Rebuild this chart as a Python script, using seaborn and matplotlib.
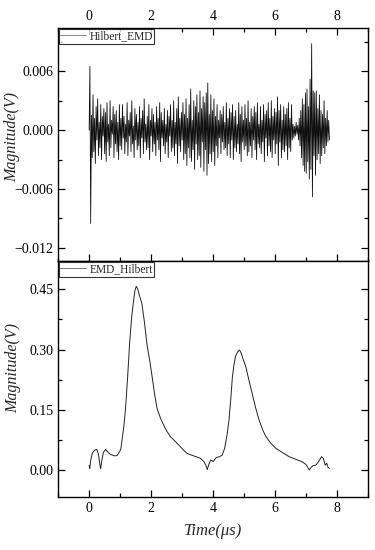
import numpy as np
import pandas as pd
import seaborn as sns
import matplotlib
matplotlib.use('Agg')
import matplotlib.pyplot as plt
from matplotlib.ticker import MultipleLocator, FuncFormatter

# Hilbert_EMD signal, mV, sampled every 0.025 us from 0
hilbert_emd_mv = [
    0.0, 6.5, -9.5, 1.5, -2.8, 3.6, -2.2, 1.2, -3.4, 2.4, -1.0, 3.2, -2.6, 0.8, -1.8, 2.6, -3.0, 1.4, -0.6, 2.2,
    -2.4, 1.8, -3.2, 2.8, -1.2, 0.6, -2.6, 3.0, -1.8, 1.0, -0.4, 2.4, -2.8, 1.6, -1.4, 2.0, -2.2, 0.8, -3.0, 2.6,
    -1.6, 1.2, -2.0, 2.6, -0.8, 1.4, -2.4, 0.6, -1.2, 2.8, -2.6, 1.0, -0.6, 1.8, -2.2, 3.0, -1.4, 0.4, -2.8, 2.2,
    -1.0, 1.6, -2.0, 0.8, -1.6, 2.4, -2.8, 1.2, -0.8, 2.0, -2.4, 3.2, -1.2, 0.6, -2.0, 1.4, -1.8, 2.6, -3.0, 1.0,
    -0.6, 2.2, -2.2, 1.6, -1.4, 0.8, -2.6, 2.4, -1.0, 1.2, -2.0, 2.8, -3.2, 1.8, -0.8, 1.0, -1.6, 2.2, -2.4, 0.6,
    -1.2, 2.0, -2.8, 1.4, -0.6, 2.6, -2.2, 1.0, -1.8, 3.0, -2.6, 0.8, -1.4, 2.2, -3.4, 3.4, -1.6, 1.2, -2.2, 1.8,
    -1.0, 2.8, -3.0, 1.6, -2.4, 3.2, -3.6, 1.2, -1.8, 2.6, -2.8, 4.2, -3.2, 1.0, -2.0, 3.0, -4.0, 2.4, -1.4, 3.6,
    -3.0, 1.8, -2.6, 4.0, -3.8, 2.2, -1.2, 3.4, -4.2, 2.8, -2.0, 3.8, -4.6, 4.8, -3.4, 1.6, -2.4, 3.6, -3.2, 2.0,
    -2.2, 3.2, -3.6, 1.4, -1.6, 2.6, -2.8, 1.0, -0.8, 2.0, -2.4, 1.6, -1.2, 2.4, -2.0, 0.8, -1.8, 2.8, -2.6, 1.2,
    -1.4, 2.2, -2.8, 1.8, -1.0, 2.6, -3.0, 1.4, -1.8, 2.0, -2.2, 0.6, -1.4, 2.8, -2.4, 1.6, -3.2, 2.4, -1.2, 1.0,
    -2.0, 2.6, -1.6, 1.2, -2.6, 3.0, -2.2, 0.8, -1.6, 2.2, -2.8, 1.4, -1.0, 2.4, -2.0, 1.8, -3.0, 2.8, -1.4, 0.6,
    -1.8, 2.4, -2.4, 1.0, -1.2, 2.6, -3.2, 1.6, -0.8, 2.0, -2.6, 2.8, -1.6, 1.2, -2.2, 3.0, -2.8, 1.4, -1.0, 2.2,
    -2.4, 1.8, -1.4, 3.4, -3.6, 2.0, -1.2, 2.6, -2.8, 1.0, -2.0, 2.4, -2.2, 1.6, -1.6, 2.2, -3.0, 2.8, -1.8, 1.2,
    -2.2, 2.6, -1.0, 0.6, -0.8, 0.4, -0.6, 0.8, -0.4, 0.5, -1.0, 1.2, -1.6, 2.0, -2.8, 3.2, -3.6, 2.6, -4.2, 3.8,
    -4.4, 4.2, -3.2, 2.4, -5.0, 5.2, -4.0, 8.8, -6.8, 4.0, -2.6, 3.8, -4.6, 4.0, -3.0, 2.2, -2.4, 3.6, -3.4, 2.0,
    -2.6, 1.6, -1.8, 3.0, -2.4, 1.2, -1.6, 2.0, -1.2, 1.0, -1.0,
]
t_top = np.arange(len(hilbert_emd_mv)) * 0.025

# EMD_Hilbert envelope
t_bot = [0.0, 0.02, 0.05, 0.1, 0.17, 0.25, 0.3, 0.34, 0.37, 0.41, 0.46, 0.53, 0.6, 0.68, 0.75, 0.83, 0.9,
         0.97, 1.02, 1.06, 1.12, 1.17, 1.24, 1.3, 1.37, 1.43, 1.48, 1.52, 1.56, 1.62, 1.7, 1.78, 1.87,
         1.95, 2.03, 2.11, 2.19, 2.3, 2.4, 2.5, 2.62, 2.75, 2.94, 3.05, 3.16, 3.3, 3.45, 3.59, 3.7, 3.77,
         3.81, 3.86, 3.92, 4.0, 4.1, 4.2, 4.29, 4.37, 4.45, 4.51, 4.57, 4.62, 4.67, 4.72, 4.79, 4.85,
         4.9, 4.97, 5.05, 5.15, 5.26, 5.37, 5.48, 5.6, 5.7, 5.85, 6.02, 6.2, 6.45, 6.65, 6.88, 7.0, 7.06,
         7.1, 7.16, 7.22, 7.31, 7.4, 7.46, 7.5, 7.55, 7.61, 7.66, 7.7, 7.75]
emd_hilbert = [0.012, 0.005, 0.025, 0.042, 0.05, 0.052, 0.04, 0.018, 0.004, 0.025, 0.045, 0.052, 0.046,
               0.04, 0.038, 0.036, 0.037, 0.045, 0.052, 0.075, 0.11, 0.15, 0.23, 0.31, 0.38, 0.42, 0.448,
               0.457, 0.452, 0.435, 0.415, 0.37, 0.31, 0.275, 0.233, 0.19, 0.154, 0.13, 0.113, 0.098, 0.084,
               0.074, 0.059, 0.05, 0.042, 0.038, 0.034, 0.03, 0.022, 0.012, 0.002, 0.015, 0.026, 0.022,
               0.032, 0.034, 0.038, 0.055, 0.09, 0.125, 0.18, 0.233, 0.262, 0.283, 0.295, 0.299, 0.292,
               0.275, 0.258, 0.225, 0.19, 0.155, 0.125, 0.1, 0.084, 0.068, 0.055, 0.046, 0.034, 0.028,
               0.021, 0.014, 0.006, 0.001, 0.008, 0.012, 0.013, 0.022, 0.03, 0.034, 0.03, 0.013, 0.018,
               0.008, 0.005]

sns.set_style('ticks')
plt.rcParams['font.family'] = ['Liberation Serif', 'DejaVu Serif']
plt.rcParams['mathtext.fontset'] = 'stix'


def fmt(n):
    return FuncFormatter(lambda v, p: ('%.*f' % (n, v)).replace('-', '\u2212') if abs(v) > 1e-12
                         else '%.*f' % (n, 0.0))


fig = plt.figure(figsize=(3.75, 5.5), dpi=100)
ax1 = fig.add_axes([0.155, 0.526, 0.827, 0.423])
ax2 = fig.add_axes([0.155, 0.0964, 0.827, 0.429])

top = pd.DataFrame({'t': t_top, 'v': np.array(hilbert_emd_mv) * 1e-3})
bot = pd.DataFrame({'t': t_bot, 'v': emd_hilbert})
sns.lineplot(data=top, x='t', y='v', ax=ax1, color='#111111', lw=0.6, label='Hilbert_EMD', sort=False)
sns.lineplot(data=bot, x='t', y='v', ax=ax2, color='#222222', lw=0.7, label='EMD_Hilbert', sort=False)

for ax in (ax1, ax2):
    ax.set_xlim(-1, 9)
    ax.xaxis.set_major_locator(MultipleLocator(2))
    ax.xaxis.set_minor_locator(MultipleLocator(1))
    for s in ax.spines.values():
        s.set_linewidth(1.0)
        s.set_color('black')
    ax.tick_params(which='both', direction='in', labelsize=10, width=0.9, colors='black')
    ax.tick_params(which='major', length=5)
    ax.tick_params(which='minor', length=3)
    ax.set_ylabel('Magnitude(V)', fontsize=11.5, style='italic')
    ax.set_xlabel('')
    leg = ax.legend(loc='upper left', fontsize=8.3, frameon=True, fancybox=False, borderaxespad=0.05,
                    borderpad=0.15, handlelength=2.2, handletextpad=0.3)
    leg.get_frame().set_edgecolor('black')
    leg.get_frame().set_linewidth(0.8)
    for line in leg.get_lines():
        line.set_color('#777777')

ax1.yaxis.set_label_coords(-0.122, 0.53)
ax2.yaxis.set_label_coords(-0.118, 0.547)

ax1.set_ylim(-0.0133, 0.0104)
ax1.yaxis.set_major_locator(MultipleLocator(0.006))
ax1.yaxis.set_minor_locator(MultipleLocator(0.003))
ax1.yaxis.set_major_formatter(fmt(3))
ax1.tick_params(which='both', top=True, bottom=True, left=True, right=True,
                labeltop=True, labelbottom=False)

ax2.set_ylim(-0.066, 0.52)
ax2.yaxis.set_major_locator(MultipleLocator(0.15))
ax2.yaxis.set_minor_locator(MultipleLocator(0.075))
ax2.yaxis.set_major_formatter(fmt(2))
ax2.tick_params(which='both', top=False, bottom=True, left=True, right=True,
                labeltop=False, labelbottom=True)
ax2.set_xlabel('Time(μs)', fontsize=12, style='italic', labelpad=6)

fig.savefig('out.png', dpi=100)
